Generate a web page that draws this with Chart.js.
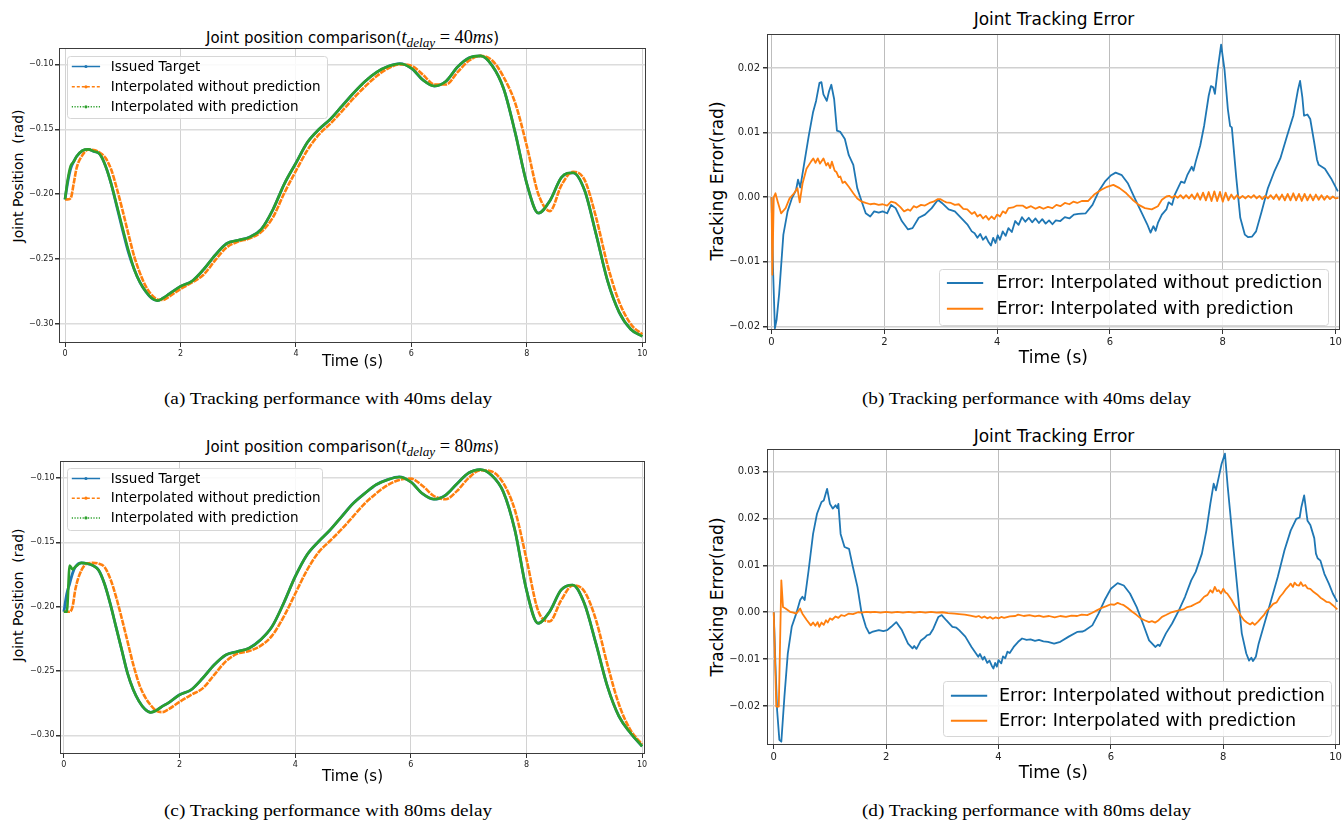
<!DOCTYPE html>
<html>
<head>
<meta charset="utf-8">
<title>Tracking performance</title>
<script src="https://cdn.jsdelivr.net/npm/chart.js"></script>
<style>
  body { margin: 0; background: #fff; }
  #fig { position: relative; width: 1344px; height: 823px; overflow: hidden; font-family: 'DejaVu Sans', sans-serif; color: #000; }
  .panel { position: absolute; }
  .ttl { position: absolute; text-align: center; white-space: nowrap; line-height: 20px; }
  .ttl .m { font-family: 'Liberation Serif', serif; font-size: 1.22em; }
  .ttl sub { font-size: 0.72em; line-height: 0; vertical-align: -0.3em; font-style: italic; }
  .ylab { position: absolute; white-space: pre; line-height: 1; transform: translate(-50%, -50%) rotate(-90deg); }
  .cap { position: absolute; text-align: center; font-family: 'Liberation Serif', serif; font-size: 17px; line-height: 20px; white-space: nowrap; transform: scaleX(1.13); }
</style>
</head>
<body>
<div id="fig">
  <div class="ttl" style="left:59px;top:27px;width:587px;font-size:15px">Joint position comparison(<span class="m"><i>t</i><sub>delay</sub> = 40<i>ms</i></span>)</div>
  <div class="ttl" style="left:767px;top:9px;width:574px;font-size:17px">Joint Tracking Error</div>
  <div class="ttl" style="left:60px;top:436px;width:585px;font-size:15px">Joint position comparison(<span class="m"><i>t</i><sub>delay</sub> = 80<i>ms</i></span>)</div>
  <div class="ttl" style="left:767px;top:426px;width:574px;font-size:17px">Joint Tracking Error</div>

  <div class="ylab" style="left:18px;top:176px;font-size:14px">Joint Position  (rad)</div>
  <div class="ylab" style="left:717px;top:181px;font-size:17px">Tracking Error(rad)</div>
  <div class="ylab" style="left:18px;top:595px;font-size:14px">Joint Position  (rad)</div>
  <div class="ylab" style="left:717px;top:597px;font-size:17px">Tracking Error(rad)</div>

  <div class="panel" style="left:0;top:40px;width:662px;height:340px"><canvas id="chartA"></canvas></div>
  <div class="panel" style="left:690px;top:25px;width:654px;height:345px"><canvas id="chartB"></canvas></div>
  <div class="panel" style="left:0;top:452px;width:662px;height:340px"><canvas id="chartC"></canvas></div>
  <div class="panel" style="left:690px;top:440px;width:654px;height:345px"><canvas id="chartD"></canvas></div>

  <div class="cap" style="left:0;top:389px;width:656px">(a) Tracking performance with 40ms delay</div>
  <div class="cap" style="left:700px;top:389px;width:653px">(b) Tracking performance with 40ms delay</div>
  <div class="cap" style="left:0;top:801px;width:656px">(c) Tracking performance with 80ms delay</div>
  <div class="cap" style="left:700px;top:801px;width:653px">(d) Tracking performance with 80ms delay</div>
</div>

<script>
const FONT = "'DejaVu Sans', sans-serif";
const C_BLUE = '#1f77b4', C_ORANGE = '#ff7f0e', C_GREEN = '#2ca02c';

// tick labels
const timeTicks = [0, 2, 4, 6, 8, 10];
const posTicks = [-0.30, -0.25, -0.20, -0.15, -0.10];
const errTicksB = [-0.02, -0.01, 0, 0.01, 0.02];
const errTicksD = [-0.02, -0.01, 0, 0.01, 0.02, 0.03];

// sample times (s) for the joint position curves
const tPos = [0, 0.05, 0.1, 0.15, 0.2, 0.3, 0.4, 0.5, 0.6, 0.7, 0.8, 0.9, 1.0, 1.1, 1.2, 1.3, 1.4, 1.5, 1.6, 1.7, 1.8,
  2.0, 2.2, 2.4, 2.6, 2.8, 3.0, 3.2, 3.4, 3.6, 3.8, 4.0, 4.2, 4.4, 4.6, 4.8, 5.0, 5.2, 5.4, 5.6, 5.8, 6.0,
  6.2, 6.4, 6.6, 6.8, 7.0, 7.2, 7.4, 7.6, 7.8, 8.0, 8.2, 8.4, 8.6, 8.8, 9.0, 9.2, 9.4, 9.6, 9.8, 10.0];

// (a) 40 ms delay
const targetA = [-0.204, -0.190, -0.180, -0.175, -0.171, -0.1665, -0.1655, -0.167, -0.169, -0.178, -0.192, -0.210, -0.228, -0.245, -0.258, -0.268, -0.275, -0.280, -0.282, -0.280, -0.277,
  -0.271, -0.267, -0.258, -0.247, -0.238, -0.2355, -0.233, -0.227, -0.212, -0.192, -0.176, -0.160, -0.150, -0.142, -0.132, -0.122, -0.113, -0.106, -0.1015, -0.0995, -0.103,
  -0.112, -0.1167, -0.113, -0.102, -0.095, -0.0935, -0.101, -0.119, -0.153, -0.192, -0.2145, -0.205, -0.187, -0.1835, -0.197, -0.231, -0.267, -0.291, -0.304, -0.3095];
const noPredA = [-0.204, -0.204, -0.203, -0.192, -0.180, -0.170, -0.1658, -0.166, -0.168, -0.172, -0.181, -0.196, -0.213, -0.231, -0.248, -0.261, -0.271, -0.2775, -0.281, -0.2815, -0.279,
  -0.273, -0.268, -0.262, -0.251, -0.241, -0.2365, -0.234, -0.229, -0.218, -0.199, -0.182, -0.166, -0.154, -0.1455, -0.136, -0.126, -0.117, -0.109, -0.103, -0.100, -0.101,
  -0.108, -0.1155, -0.1155, -0.106, -0.097, -0.0935, -0.097, -0.110, -0.130, -0.163, -0.200, -0.213, -0.193, -0.1827, -0.189, -0.218, -0.255, -0.283, -0.300, -0.308];
const predA = [-0.204, -0.188, -0.178, -0.175, -0.171, -0.1665, -0.1655, -0.167, -0.169, -0.178, -0.192, -0.209, -0.2265, -0.2435, -0.258, -0.268, -0.275, -0.280, -0.282, -0.280, -0.277,
  -0.271, -0.267, -0.258, -0.247, -0.238, -0.2355, -0.233, -0.227, -0.212, -0.192, -0.176, -0.160, -0.150, -0.142, -0.132, -0.122, -0.113, -0.106, -0.1015, -0.0995, -0.103,
  -0.112, -0.1167, -0.113, -0.102, -0.095, -0.0935, -0.101, -0.119, -0.153, -0.192, -0.2145, -0.205, -0.187, -0.1835, -0.197, -0.231, -0.267, -0.291, -0.304, -0.3095];

// (c) 80 ms delay
const targetC = [-0.204, -0.190, -0.182, -0.174, -0.169, -0.166, -0.1665, -0.168, -0.1716, -0.182, -0.1974, -0.2155, -0.2336, -0.2517, -0.2646, -0.2736, -0.2796, -0.2822, -0.2806, -0.2775, -0.275,
  -0.2685, -0.2646, -0.2556, -0.2452, -0.2375, -0.2349, -0.2323, -0.2258, -0.2155, -0.1974, -0.1767, -0.160, -0.1496, -0.1406, -0.1302, -0.1199, -0.1121, -0.1052, -0.1013, -0.0992, -0.1031,
  -0.1121, -0.1165, -0.1134, -0.1044, -0.0961, -0.0935, -0.098, -0.1108, -0.1406, -0.187, -0.2129, -0.2039, -0.187, -0.1832, -0.1974, -0.2284, -0.262, -0.2853, -0.2982, -0.3085];
const noPredC = [-0.204, -0.204, -0.204, -0.200, -0.186, -0.172, -0.1665, -0.166, -0.1665, -0.169, -0.178, -0.192, -0.209, -0.227, -0.245, -0.260, -0.270, -0.2765, -0.281, -0.282, -0.280,
  -0.274, -0.2685, -0.2635, -0.253, -0.2425, -0.2365, -0.2345, -0.2305, -0.2225, -0.208, -0.190, -0.172, -0.158, -0.149, -0.140, -0.130, -0.120, -0.112, -0.1055, -0.1015, -0.1005,
  -0.106, -0.114, -0.1165, -0.110, -0.100, -0.094, -0.095, -0.104, -0.125, -0.163, -0.203, -0.2115, -0.195, -0.1835, -0.188, -0.210, -0.245, -0.276, -0.296, -0.307];
const predC = [-0.204, -0.204, -0.168, -0.171, -0.169, -0.166, -0.1665, -0.168, -0.1716, -0.182, -0.1974, -0.2155, -0.2336, -0.2517, -0.2646, -0.2736, -0.2796, -0.2822, -0.2806, -0.2775, -0.275,
  -0.2685, -0.2646, -0.2556, -0.2452, -0.2375, -0.2349, -0.2323, -0.2258, -0.2155, -0.1974, -0.1767, -0.160, -0.1496, -0.1406, -0.1302, -0.1199, -0.1121, -0.1052, -0.1013, -0.0992, -0.1031,
  -0.1121, -0.1165, -0.1134, -0.1044, -0.0961, -0.0935, -0.098, -0.1108, -0.1406, -0.187, -0.2129, -0.2039, -0.187, -0.1832, -0.1974, -0.2284, -0.262, -0.2853, -0.2982, -0.3085];

// (b) tracking error, 40 ms: [time, error]
const errNoPredB = [[0,0],[0.03,-0.012],[0.06,-0.0203],[0.09,-0.019],[0.135,-0.015],[0.21,-0.0058],[0.285,-0.0022],[0.36,-0.0002],[0.435,0.0011],[0.47,0.0027],[0.51,0.0015],
  [0.585,0.0055],[0.66,0.0095],[0.735,0.0131],[0.79,0.0149],[0.85,0.0177],[0.885,0.0178],[0.92,0.0159],[0.98,0.0149],[1.02,0.0164],[1.06,0.0174],[1.11,0.0152],[1.16,0.0103],
  [1.22,0.0101],[1.3,0.009],[1.37,0.0065],[1.45,0.005],[1.52,0.0014],[1.6,-0.0007],[1.67,-0.0025],[1.75,-0.003],[1.82,-0.0022],[1.9,-0.0024],[1.97,-0.0022],[2.05,-0.0025],
  [2.12,-0.0012],[2.2,-0.0017],[2.31,-0.0037],[2.42,-0.005],[2.5,-0.0048],[2.61,-0.0032],[2.72,-0.0027],[2.84,-0.0017],[2.95,-0.0004],[3.02,-0.0009],[3.14,-0.0019],[3.25,-0.0022],
  [3.36,-0.0032],[3.47,-0.0042],[3.55,-0.0053],[3.6,-0.0056],[3.65,-0.0063],[3.7,-0.0057],[3.75,-0.0066],[3.8,-0.0061],[3.85,-0.007],[3.89,-0.0075],[3.93,-0.0063],[3.97,-0.0071],
  [4.01,-0.0059],[4.05,-0.0066],[4.1,-0.0053],[4.15,-0.006],[4.2,-0.0048],[4.26,-0.0054],[4.32,-0.0037],[4.38,-0.0043],[4.44,-0.0031],[4.5,-0.0038],[4.56,-0.0032],[4.62,-0.0039],
  [4.68,-0.0033],[4.74,-0.004],[4.8,-0.0034],[4.86,-0.0041],[4.92,-0.0036],[4.98,-0.0042],[5.04,-0.0036],[5.12,-0.0037],[5.2,-0.0031],[5.28,-0.0033],[5.36,-0.0027],[5.44,-0.0026],
  [5.57,-0.0025],[5.69,-0.0012],[5.8,0.0009],[5.91,0.0024],[6.02,0.0034],[6.1,0.0038],[6.21,0.0034],[6.32,0.0021],[6.44,-0.0002],[6.55,-0.0022],[6.66,-0.0042],[6.72,-0.0055],
  [6.77,-0.0045],[6.81,-0.0052],[6.85,-0.004],[6.92,-0.0027],[7.0,-0.0019],[7.04,-0.0008],[7.1,-0.0012],[7.15,0.0004],[7.26,0.0024],[7.32,0.0022],[7.37,0.0034],[7.45,0.0047],
  [7.48,0.0041],[7.52,0.0055],[7.6,0.008],[7.67,0.0111],[7.75,0.0157],[7.79,0.0172],[7.83,0.017],[7.86,0.016],[7.91,0.0198],[7.97,0.0236],[8.03,0.0198],[8.09,0.0136],[8.13,0.011],
  [8.16,0.0108],[8.24,0.0029],[8.31,-0.0032],[8.39,-0.0058],[8.45,-0.0062],[8.52,-0.0061],[8.59,-0.0053],[8.69,-0.0022],[8.8,0.0014],[8.91,0.0039],[9.02,0.006],[9.14,0.0095],
  [9.25,0.0126],[9.33,0.0165],[9.37,0.018],[9.41,0.0155],[9.44,0.0126],[9.5,0.0128],[9.55,0.0121],[9.62,0.0085],[9.67,0.0058],[9.7,0.005],[9.81,0.0044],[9.92,0.0029],[10.04,0.0009]];
const errPredB = [[0,0],[0.015,-0.012],[0.04,0],[0.07,0.0006],[0.11,-0.0007],[0.17,-0.0025],[0.25,-0.0017],[0.32,-0.0002],[0.4,0.0006],[0.46,0.0014],[0.5,-0.0008],[0.55,0.0021],
  [0.62,0.0044],[0.7,0.0055],[0.74,0.006],[0.78,0.0053],[0.82,0.006],[0.86,0.0052],[0.92,0.006],[0.97,0.0049],[1.0,0.0053],[1.04,0.0045],[1.07,0.0055],[1.12,0.0041],[1.15,0.0039],
  [1.19,0.0031],[1.22,0.0032],[1.26,0.0022],[1.3,0.0024],[1.37,0.0016],[1.45,0.0006],[1.52,-0.0002],[1.6,-0.0007],[1.67,-0.0009],[1.75,-0.0011],[1.82,-0.001],[1.9,-0.0012],
  [1.97,-0.0011],[2.05,-0.0013],[2.12,-0.0007],[2.2,-0.0009],[2.28,-0.0015],[2.35,-0.0022],[2.42,-0.0019],[2.46,-0.0021],[2.52,-0.0014],[2.57,-0.0016],[2.65,-0.0012],[2.72,-0.0013],
  [2.8,-0.0009],[2.87,-0.0007],[2.95,-0.0003],[2.99,-0.0003],[3.05,-0.0006],[3.1,-0.0008],[3.18,-0.0009],[3.25,-0.0012],[3.32,-0.0011],[3.4,-0.0018],[3.47,-0.0019],[3.55,-0.0026],
  [3.6,-0.0023],[3.65,-0.003],[3.7,-0.0027],[3.75,-0.0033],[3.8,-0.0029],[3.85,-0.0035],[3.9,-0.003],[3.95,-0.0034],[4.0,-0.0027],[4.05,-0.003],[4.1,-0.0022],[4.15,-0.0025],
  [4.2,-0.0017],[4.28,-0.0016],[4.35,-0.0013],[4.45,-0.0013],[4.52,-0.0017],[4.6,-0.0014],[4.68,-0.0018],[4.75,-0.0015],[4.82,-0.0018],[4.9,-0.0015],[4.98,-0.0017],[5.05,-0.0012],
  [5.12,-0.0014],[5.2,-0.0009],[5.28,-0.0011],[5.35,-0.0007],[5.42,-0.0009],[5.5,-0.0006],[5.61,-0.0006],[5.72,0.0004],[5.84,0.0011],[5.95,0.0016],[6.06,0.0019],[6.17,0.0014],
  [6.29,0.0006],[6.4,-0.0004],[6.51,-0.0012],[6.62,-0.0017],[6.74,-0.0019],[6.85,-0.0014],[6.92,-0.0004],[7.0,0.0001],[7.05,0.0002],[7.1,-0.0001],[7.15,0.0002],[7.2,-0.0001],
  [7.25,0.0003],[7.3,-0.0002],[7.35,0.0003],[7.4,-0.0002],[7.45,0.0004],[7.5,-0.0003],[7.55,0.0006],[7.6,-0.0004],[7.65,0.0007],[7.7,-0.0005],[7.75,0.0008],[7.8,-0.0006],
  [7.85,0.0009],[7.9,-0.0006],[7.95,0.0008],[8.0,-0.0007],[8.05,0.0007],[8.1,-0.0005],[8.15,0.0004],[8.2,-0.0003],[8.25,0.0003],[8.3,-0.0002],[8.35,0.0002],[8.4,-0.0002],
  [8.45,0.0002],[8.5,-0.0001],[8.55,0.0003],[8.6,-0.0002],[8.65,0.0002],[8.7,-0.0003],[8.75,0.0002],[8.8,-0.0002],[8.85,0.0003],[8.9,-0.0003],[8.95,0.0004],[9.0,-0.0004],
  [9.05,0.0004],[9.1,-0.0005],[9.15,0.0005],[9.2,-0.0005],[9.25,0.0006],[9.3,-0.0005],[9.35,0.0005],[9.4,-0.0006],[9.45,0.0005],[9.5,-0.0005],[9.55,0.0004],[9.6,-0.0005],
  [9.65,0.0004],[9.7,-0.0004],[9.75,0.0003],[9.8,-0.0004],[9.85,0.0002],[9.9,-0.0003],[9.95,0.0001],[10.0,-0.0002],[10.05,-0.0001]];

// (d) tracking error, 80 ms: [time, error]
const errNoPredD = [[0,0],[0.03,-0.011],[0.06,-0.0209],[0.1,-0.0272],[0.135,-0.0276],[0.19,-0.018],[0.25,-0.0088],[0.32,-0.0031],[0.4,-0.0003],[0.47,0.0026],[0.51,0.0033],
  [0.55,0.0026],[0.62,0.0089],[0.7,0.0167],[0.77,0.021],[0.85,0.0235],[0.89,0.0238],[0.95,0.0263],[1.0,0.0231],[1.05,0.0221],[1.1,0.0228],[1.13,0.0222],[1.15,0.0231],[1.19,0.0167],
  [1.26,0.0139],[1.34,0.0135],[1.41,0.0096],[1.49,0.0054],[1.56,0.0001],[1.64,-0.0031],[1.7,-0.0045],[1.75,-0.0042],[1.87,-0.0038],[1.95,-0.004],[2.02,-0.0038],[2.09,-0.0031],
  [2.18,-0.0021],[2.28,-0.0038],[2.39,-0.0067],[2.47,-0.0077],[2.5,-0.0072],[2.54,-0.0078],[2.62,-0.006],[2.68,-0.0055],[2.73,-0.0049],[2.78,-0.0047],[2.84,-0.0035],[2.93,-0.001],
  [2.99,-0.0006],[3.07,-0.0017],[3.18,-0.0031],[3.25,-0.0033],[3.3,-0.0038],[3.41,-0.0052],[3.52,-0.0074],[3.6,-0.0088],[3.64,-0.0095],[3.67,-0.0089],[3.72,-0.0101],[3.75,-0.0095],
  [3.8,-0.0108],[3.84,-0.0103],[3.88,-0.0114],[3.91,-0.012],[3.94,-0.0108],[3.97,-0.0116],[4.0,-0.0102],[4.05,-0.0109],[4.08,-0.0094],[4.12,-0.0098],[4.16,-0.0084],[4.2,-0.0087],
  [4.27,-0.0074],[4.35,-0.0063],[4.42,-0.0056],[4.5,-0.0059],[4.57,-0.0058],[4.65,-0.0061],[4.72,-0.0059],[4.8,-0.0062],[4.88,-0.0063],[4.99,-0.0067],[5.1,-0.0063],[5.25,-0.0052],
  [5.4,-0.0042],[5.5,-0.0041],[5.55,-0.0038],[5.67,-0.0028],[5.78,-0.0003],[5.89,0.0026],[6.0,0.005],[6.12,0.0062],[6.23,0.0057],[6.34,0.004],[6.46,0.0011],[6.57,-0.0024],
  [6.68,-0.006],[6.79,-0.0074],[6.84,-0.0069],[6.87,-0.0072],[6.98,-0.0045],[7.09,-0.0024],[7.21,0.0004],[7.32,0.0033],[7.43,0.0068],[7.51,0.0086],[7.62,0.0125],[7.7,0.0174],
  [7.77,0.0231],[7.83,0.0274],[7.87,0.026],[7.92,0.0288],[7.97,0.0316],[8.03,0.0338],[8.08,0.0267],[8.12,0.0217],[8.18,0.0139],[8.26,0.004],[8.33,-0.0045],[8.41,-0.0088],
  [8.46,-0.0103],[8.5,-0.0097],[8.53,-0.0104],[8.58,-0.0095],[8.63,-0.0067],[8.75,-0.0017],[8.86,0.0029],[8.97,0.0075],[9.09,0.0132],[9.2,0.0174],[9.3,0.0199],[9.36,0.0202],
  [9.39,0.0224],[9.44,0.0249],[9.5,0.0195],[9.55,0.0186],[9.58,0.0174],[9.62,0.0158],[9.65,0.0125],[9.68,0.0115],[9.73,0.011],[9.8,0.0082],[9.88,0.0061],[9.95,0.004],[10.03,0.0022]];
const errPredD = [[0,0],[0.045,-0.0201],[0.09,-0.0201],[0.135,0.0068],[0.165,0.0011],[0.21,0.0008],[0.29,0.0001],[0.35,-0.0001],[0.4,-0.0003],[0.47,0.0008],[0.51,-0.0003],
  [0.59,-0.0017],[0.66,-0.0028],[0.7,-0.0022],[0.74,-0.0029],[0.78,-0.0021],[0.81,-0.0031],[0.85,-0.0022],[0.89,-0.0027],[0.93,-0.0017],[0.96,-0.0022],[1.0,-0.0013],[1.04,-0.0016],
  [1.1,-0.0009],[1.15,-0.0012],[1.2,-0.0006],[1.26,-0.0008],[1.33,-0.0003],[1.41,-0.0004],[1.5,0],[1.56,-0.0001],[1.65,0.0001],[1.72,0],[1.8,0.0001],[1.9,-0.0001],[2.0,0.0001],
  [2.1,-0.0001],[2.2,0.0001],[2.3,-0.0001],[2.4,0.0001],[2.5,-0.0001],[2.6,0.0001],[2.7,-0.0001],[2.8,0.0001],[2.9,-0.0001],[3.0,0],[3.1,-0.0002],[3.22,-0.0003],[3.3,-0.0004],
  [3.4,-0.0005],[3.5,-0.0007],[3.6,-0.001],[3.65,-0.0008],[3.7,-0.0012],[3.75,-0.0009],[3.8,-0.0013],[3.85,-0.001],[3.9,-0.0014],[3.95,-0.0011],[4.0,-0.0013],[4.05,-0.001],
  [4.1,-0.0012],[4.2,-0.0009],[4.3,-0.0008],[4.35,-0.0005],[4.45,-0.0008],[4.55,-0.0006],[4.65,-0.0009],[4.72,-0.0007],[4.8,-0.001],[4.9,-0.0008],[5.0,-0.0011],[5.1,-0.0008],
  [5.2,-0.001],[5.3,-0.0007],[5.4,-0.0008],[5.48,-0.0005],[5.58,-0.0006],[5.67,-0.0001],[5.75,0.0004],[5.85,0.001],[5.92,0.0013],[6.0,0.0017],[6.06,0.0016],[6.12,0.002],
  [6.18,0.0017],[6.23,0.0015],[6.3,0.0009],[6.38,0.0001],[6.45,-0.0005],[6.53,-0.0013],[6.6,-0.0017],[6.68,-0.0021],[6.73,-0.0019],[6.79,-0.0022],[6.85,-0.0017],[6.91,-0.001],
  [6.98,-0.0006],[7.06,-0.0001],[7.14,0.0002],[7.21,0.0004],[7.29,0.0006],[7.36,0.0011],[7.43,0.0013],[7.51,0.0018],[7.58,0.0022],[7.66,0.0033],[7.72,0.0037],[7.77,0.0047],
  [7.81,0.0042],[7.85,0.0054],[7.89,0.0045],[7.92,0.0047],[7.96,0.004],[8.0,0.005],[8.04,0.0042],[8.07,0.004],[8.11,0.0033],[8.15,0.0026],[8.2,0.0015],[8.26,0.0004],[8.31,-0.0007],
  [8.37,-0.0017],[8.42,-0.0022],[8.48,-0.0026],[8.52,-0.0022],[8.56,-0.0027],[8.62,-0.002],[8.67,-0.0013],[8.73,-0.0005],[8.78,0.0004],[8.84,0.0011],[8.89,0.0018],[8.95,0.0021],
  [9.01,0.0033],[9.06,0.004],[9.12,0.005],[9.16,0.0055],[9.2,0.0061],[9.24,0.0054],[9.27,0.0063],[9.31,0.0058],[9.35,0.0057],[9.38,0.0064],[9.42,0.0056],[9.46,0.0058],[9.5,0.0051],
  [9.55,0.005],[9.61,0.0043],[9.67,0.0038],[9.73,0.0031],[9.78,0.0027],[9.84,0.0022],[9.89,0.0021],[9.95,0.0015],[10.03,0.0006]];

function pts(ts, vs) { return ts.map((t, i) => ({x: t, y: vs[i]})); }
function pairs(p) { return p.map(d => ({x: d[0], y: d[1]})); }
const minus = s => s.replace('-', '\u2212');

// matplotlib-style full frame around the axes
const framePlugin = {
  id: 'frame',
  afterDatasetsDraw(chart) {
    const a = chart.chartArea, ctx = chart.ctx;
    ctx.save();
    ctx.strokeStyle = '#3c3c3c';
    ctx.lineWidth = 1;
    ctx.strokeRect(Math.round(a.left) + 0.5, Math.round(a.top) + 0.5, Math.round(a.right - a.left) - 1, Math.round(a.bottom - a.top) - 1);
    ctx.restore();
  }
};

// legend box drawn inside the plot area
const boxLegend = {
  id: 'boxLegend',
  afterDraw(chart, args, o) {
    const {ctx, chartArea: a} = chart;
    const x = Math.round(a.left + o.x) + 0.5, y = Math.round(a.top + o.y) + 0.5;
    ctx.save();
    ctx.fillStyle = 'rgba(255,255,255,0.85)';
    ctx.strokeStyle = '#d6d6d6';
    ctx.lineWidth = 1;
    ctx.beginPath();
    ctx.roundRect(x, y, o.w, o.h, 3);
    ctx.fill();
    ctx.stroke();
    ctx.font = o.size + 'px ' + FONT;
    ctx.textBaseline = 'middle';
    o.entries.forEach((idx, i) => {
      const ds = chart.data.datasets[idx];
      const ly = y + o.rows[i];
      ctx.strokeStyle = ds.borderColor;
      ctx.lineWidth = o.lw;
      ctx.setLineDash(ds.legendDash || []);
      ctx.beginPath();
      ctx.moveTo(x + o.s0, ly);
      ctx.lineTo(x + o.s1, ly);
      ctx.stroke();
      ctx.setLineDash([]);
      if (o.marker) {
        ctx.fillStyle = ds.borderColor;
        ctx.beginPath();
        ctx.arc(x + (o.s0 + o.s1) / 2, ly, 1.6, 0, Math.PI * 2);
        ctx.fill();
      }
      ctx.fillStyle = '#000';
      ctx.fillText(ds.label, x + o.tx, ly + 0.5);
    });
    ctx.restore();
  }
};

function scales(o) {
  return {
    x: {
      type: 'linear', min: o.xmin, max: o.xmax,
      afterBuildTicks: s => { s.ticks = timeTicks.map(v => ({value: v})); },
      afterFit: s => { s.height = o.xh; },
      ticks: { font: {family: FONT, size: o.tick}, color: '#222', padding: 2, maxRotation: 0, autoSkip: false, callback: v => String(v) },
      grid: { color: o.gx, lineWidth: 1, tickLength: 4, tickColor: '#333' },
      border: { display: false },
      title: { display: true, text: 'Time (s)', color: '#000', font: {family: FONT, size: o.lab}, padding: {top: 0, bottom: o.xpb} }
    },
    y: {
      type: 'linear', min: o.ymin, max: o.ymax,
      afterBuildTicks: s => { s.ticks = o.yticks.map(v => ({value: v})); },
      afterFit: s => { s.width = o.yw; },
      ticks: { font: {family: FONT, size: o.tick}, color: '#222', padding: o.ypad, autoSkip: false, callback: v => minus(v.toFixed(2)) },
      grid: { color: o.gy, lineWidth: o.gyw, tickLength: 4, tickColor: '#333' },
      border: { display: false }
    }
  };
}

function makeChart(id, datasets, sc, pad, legend) {
  return new Chart(document.getElementById(id), {
    type: 'line',
    data: { datasets },
    options: {
      responsive: true, maintainAspectRatio: false, animation: false,
      layout: { padding: pad },
      elements: { point: { radius: 0 } },
      scales: scales(sc),
      plugins: { legend: { display: false }, tooltip: { enabled: false }, boxLegend: legend }
    },
    plugins: [framePlugin, boxLegend]
  });
}

function posSets(target, noPred, pred) {
  return [
    { label: 'Issued Target', data: pts(tPos, target), borderColor: C_BLUE, borderWidth: 2.8, cubicInterpolationMode: 'monotone', order: 3 },
    { label: 'Interpolated without prediction', data: pts(tPos, noPred), borderColor: C_ORANGE, borderWidth: 2.6, borderDash: [6, 1], cubicInterpolationMode: 'monotone', order: 2, legendDash: [3, 2] },
    { label: 'Interpolated with prediction', data: pts(tPos, pred), borderColor: C_GREEN, borderWidth: 2.6, cubicInterpolationMode: 'monotone', order: 1, legendDash: [1.2, 1.5] }
  ];
}
function errSets(noPred, pred) {
  return [
    { label: 'Error: Interpolated without prediction', data: pairs(noPred), borderColor: C_BLUE, borderWidth: 1.8, tension: 0, borderJoinStyle: 'round', order: 2 },
    { label: 'Error: Interpolated with prediction', data: pairs(pred), borderColor: C_ORANGE, borderWidth: 1.8, tension: 0, borderJoinStyle: 'round', order: 1 }
  ];
}

const posScale = { tick: 8, lab: 15, gx: '#d2d2d2', gy: '#dcdcdc', gyw: 1.5, yticks: posTicks, ypad: 1.5 };
const errScale = { tick: 10, lab: 17, gx: '#bdbdbd', gy: '#d0d0d0', gyw: 1.5, ypad: 3 };
const posLegend = { entries: [0, 1, 2], size: 13.5, lw: 1.5, marker: true, s0: 4.3, s1: 32.6, tx: 43.3 };
const errLegend = { entries: [0, 1], size: 17.5, lw: 2, marker: false, s0: 7.4, s1: 43.7 };

makeChart('chartA', posSets(targetA, noPredA, predA),
  Object.assign({}, posScale, { xmin: -0.104, xmax: 10.064, ymin: -0.3146, ymax: -0.0874, xh: 37, yw: 59, xpb: 9 }),
  { top: 8, right: 16, left: 0, bottom: 0 },
  Object.assign({}, posLegend, { x: 7.7, y: 7.7, w: 260, h: 62, rows: [10, 30.3, 50.3] }));

makeChart('chartB', errSets(errNoPredB, errPredB),
  Object.assign({}, errScale, { xmin: -0.08, xmax: 10.075, ymin: -0.02057, ymax: 0.02526, yticks: errTicksB, xh: 40, yw: 77, xpb: 1 }),
  { top: 6, right: 3, left: 0, bottom: 0 },
  Object.assign({}, errLegend, { x: 172, y: 234.7, w: 389, h: 56, rows: [13.6, 39.3], tx: 57 }));

makeChart('chartC', posSets(targetC, noPredC, predC),
  Object.assign({}, posScale, { xmin: -0.0675, xmax: 10.05, ymin: -0.3145, ymax: -0.0868, xh: 38, yw: 60, xpb: 5.5 }),
  { top: 9, right: 17, left: 0, bottom: 0 },
  Object.assign({}, posLegend, { x: 6.7, y: 7, w: 255, h: 62, rows: [10, 29.7, 49.4] }));

makeChart('chartD', errSets(errNoPredD, errPredD),
  Object.assign({}, errScale, { xmin: -0.12, xmax: 10.07, ymin: -0.0283, ymax: 0.0348, yticks: errTicksD, xh: 40, yw: 77, xpb: 1.5 }),
  { top: 9, right: 3, left: 0, bottom: 0 },
  Object.assign({}, errLegend, { x: 175.5, y: 231.7, w: 388, h: 55, rows: [14.3, 39.3], tx: 55.5 }));
</script>
</body>
</html>
